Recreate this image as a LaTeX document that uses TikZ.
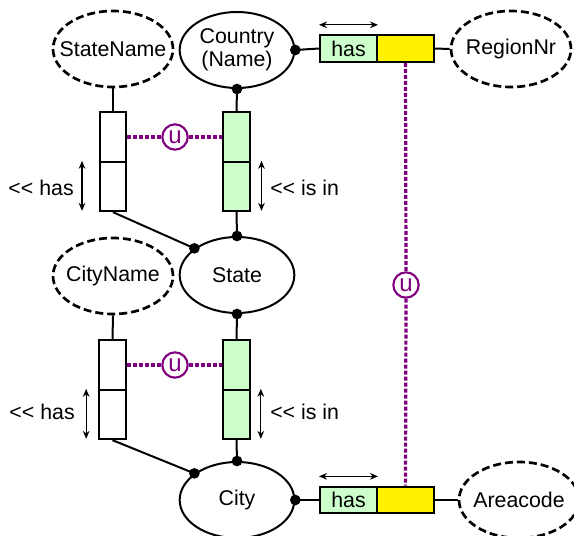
\documentclass[tikz,border=0pt]{standalone}
\usepackage{fontspec}
\setmainfont{Liberation Sans}
\usetikzlibrary{shapes.geometric,arrows.meta}
\definecolor{rolegreen}{RGB}{204,255,204}
\definecolor{uniq}{RGB}{128,0,128}

\begin{document}
\begin{tikzpicture}[x=0.75pt,y=-0.75pt,
  font=\fontsize{16}{17.5}\selectfont,
  objtype/.style={ellipse, draw, line width=1.5pt, minimum width=86pt, minimum height=57pt, inner sep=0pt, label={[inner sep=0pt, align=center]center:#1}},
  valtype/.style={ellipse, draw, line width=2pt, dash pattern=on 6pt off 3pt, minimum width=90pt, minimum height=57pt, inner sep=0pt, label={[inner sep=0pt]center:#1}},
  vrole/.style={draw, line width=1.5pt, minimum width=20pt, minimum height=37pt, inner sep=0pt},
  hrole/.style={draw, line width=1.5pt, minimum width=42.75pt, minimum height=20pt, inner sep=0pt},
  link/.style={line width=1.5pt},
  dot/.style={fill=black},
  uc/.style={circle, draw=uniq, text=uniq, line width=1.6pt, minimum size=19pt, inner sep=0pt, font=\fontsize{18}{18}\selectfont},
  ulink/.style={draw=uniq, line width=2.4pt, dash pattern=on 3pt off 1.5pt},
  span/.style={line width=0.9pt, {Stealth[length=6pt,width=5pt]}-{Stealth[length=6pt,width=5pt]}}]

\useasboundingbox (0,0) rectangle (574,535);

% object and value types
\node[valtype=StateName] (statename) at (113,49) {};
\node[objtype={Country\\(Name)}] (country) at (237,50) {};
\node[valtype=RegionNr] (regionnr) at (511,49) {};
\node[objtype=State] (state) at (237,275) {};
\node[valtype=CityName] (cityname) at (113,276) {};
\node[objtype=City] (city) at (237,500) {};
\node[valtype=Areacode] (areacode) at (519,500) {};

% vertical fact types
\node[vrole] (r1a) at (113,137) {};
\node[vrole] (r1b) at (113,186.5) {};
\node[vrole, fill=rolegreen] (g1a) at (236.5,137) {};
\node[vrole, fill=rolegreen] (g1b) at (236.5,186.5) {};
\node[vrole] (r2a) at (112.5,365) {};
\node[vrole] (r2b) at (112.5,414.5) {};
\node[vrole, fill=rolegreen] (g2a) at (236.5,365) {};
\node[vrole, fill=rolegreen] (g2b) at (236.5,414.5) {};

% horizontal fact types
\node[hrole, fill=rolegreen] (h1g) at (348.5,48.5) {has};
\node[hrole, fill=yellow] (h1y) at (405.5,48.5) {};
\node[hrole, fill=rolegreen] (h2g) at (348.5,500) {has};
\node[hrole, fill=yellow] (h2y) at (405.5,500) {};

% uniqueness constraints
\node[uc] (u1) at (175,137) {u};
\node[uc] (u2) at (175,365) {u};
\node[uc] (u3) at (406,285) {u};

% role connectors
\draw[link] (statename.south) -- (r1a.north);
\draw[link] (country.south) -- (g1a.north);
\draw[link] (country.east) -- (h1g.west);
\draw[link] (h1y.east) -- (regionnr.west);
\draw[link] (r1b.south) -- (state.148);
\draw[link] (g1b.south) -- (state.north);
\draw[link] (state.south) -- (g2a.north);
\draw[link] (cityname.south) -- (r2a.north);
\draw[link] (r2b.south) -- (city.148);
\draw[link] (g2b.south) -- (city.north);
\draw[link] (city.east) -- (h2g.west);
\draw[link] (h2y.east) -- (areacode.west);

% mandatory role dots
\foreach \p in {country.south, country.east, state.148, state.north, state.south, city.148, city.north, city.east}
  \fill[dot] (\p) circle (4pt);

% uniqueness constraint links
\draw[ulink] (r1a.east) -- (u1.west);
\draw[ulink] (u1.east) -- (g1a.west);
\draw[ulink] (r2a.east) -- (u2.west);
\draw[ulink] (u2.east) -- (g2a.west);
\draw[ulink] (h1y.south) -- (u3.north);
\draw[ulink] (u3.south) -- (h2y.north);

% reading directions
\draw[span] ([xshift=-12.5pt]r1b.north west) -- ([xshift=-12.5pt,yshift=1pt]r1b.south west);
\draw[span] ([xshift=8pt]g1b.north east) -- ([xshift=8pt,yshift=1pt]g1b.south east);
\draw[span] ([xshift=-9pt]r2b.north west) -- ([xshift=-9pt,yshift=1pt]r2b.south west);
\draw[span] ([xshift=7.5pt]g2b.north east) -- ([xshift=7.5pt,yshift=1pt]g2b.south east);
\draw[span] ([yshift=7pt]h1g.north west) -- ([yshift=7pt]h1g.north east);
\draw[span] ([yshift=7pt]h2g.north west) -- ([yshift=7pt]h2g.north east);

% reading labels
\node[anchor=east, inner sep=0pt] (l1) at (74,188) {<{}< has};
\node[anchor=west, inner sep=0pt] (l2) at (270,188) {<{}< is in};
\node[anchor=east, inner sep=0pt] (l3) at (75,412) {<{}< has};
\node[anchor=west, inner sep=0pt] (l4) at (270,412) {<{}< is in};
\end{tikzpicture}
\end{document}
